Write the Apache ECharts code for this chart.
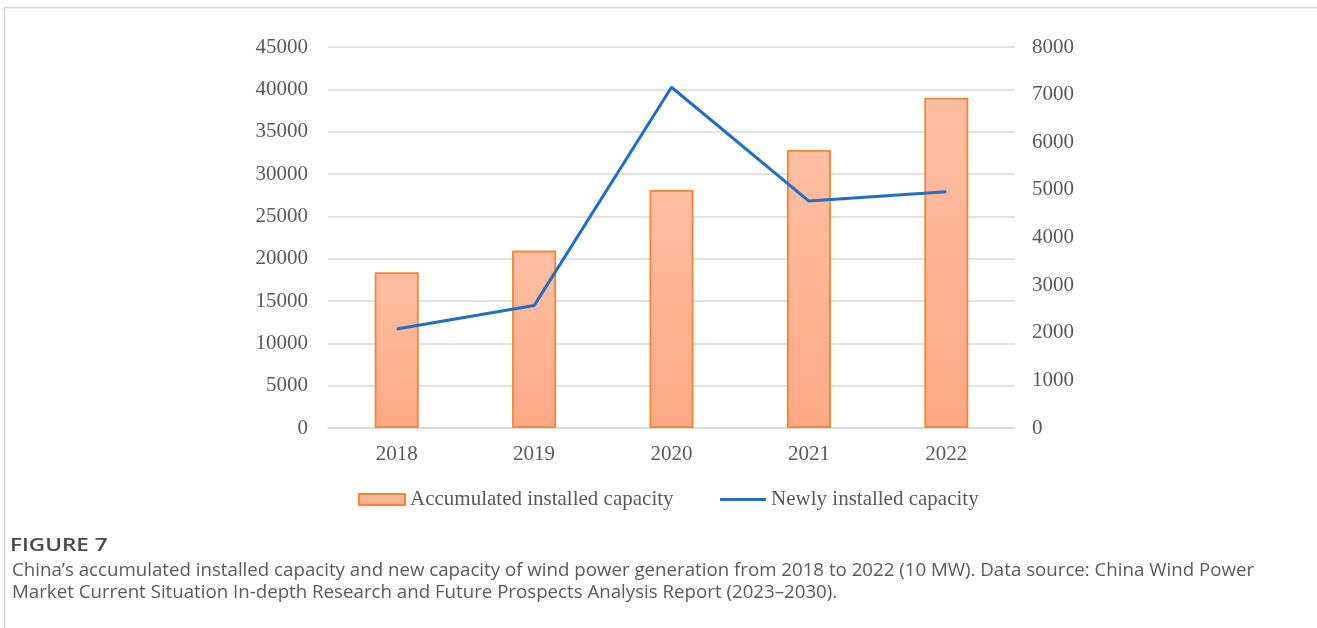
<!DOCTYPE html>
<html>
<head>
<meta charset="utf-8">
<style>
  html, body { margin: 0; padding: 0; background: #ffffff; }
  #chart { width: 1317px; height: 628px; }
</style>
<script src="https://cdn.jsdelivr.net/npm/echarts@6/dist/echarts.min.js"></script>
</head>
<body>
<div id="chart"></div>
<script>
// Wind power in China, 2018-2022 (unit: 10 MW)
const years = ['2018', '2019', '2020', '2021', '2022'];
const accumulatedCapacity = [18400, 20950, 28110, 32840, 39010];
const newCapacity = [2080, 2570, 7155, 4765, 4960];
const leftTicks = { min: 0, max: 45000, interval: 5000 };
const rightTicks = { min: 0, max: 8000, interval: 1000 };

const serif = '"Liberation Serif", "Times New Roman", serif';
const sans = '"Open Sans", "Noto Sans", sans-serif';
const textGray = '#595959';
const gridGray = '#d9d9d9';
const plain = (v) => String(v);

const chart = echarts.init(document.getElementById('chart'));

chart.setOption({
  animation: false,
  backgroundColor: '#ffffff',
  grid: { left: 328, right: 302, top: 47, bottom: 200, containLabel: false },
  legend: {
    left: 358,
    top: 489,
    padding: 0,
    itemWidth: 46,
    itemHeight: 11,
    itemGap: 45,
    textStyle: { fontFamily: serif, fontSize: 21, color: textGray },
    data: [
      { name: 'Accumulated installed capacity', icon: 'rect' },
      { name: 'Newly installed capacity', itemStyle: { opacity: 0 }, lineStyle: { width: 3 } }
    ]
  },
  xAxis: {
    type: 'category',
    data: years,
    axisLine: { show: true, lineStyle: { color: gridGray, width: 1.5 } },
    axisTick: { show: false },
    axisLabel: { fontFamily: serif, fontSize: 21, color: textGray, margin: 16 }
  },
  yAxis: [
    {
      type: 'value',
      min: leftTicks.min, max: leftTicks.max, interval: leftTicks.interval,
      axisLine: { show: false },
      axisTick: { show: false },
      splitLine: { lineStyle: { color: gridGray, width: 1.5 } },
      axisLabel: { fontFamily: serif, fontSize: 21, color: textGray, margin: 20, formatter: plain }
    },
    {
      type: 'value',
      min: rightTicks.min, max: rightTicks.max, interval: rightTicks.interval,
      axisLine: { show: false },
      axisTick: { show: false },
      splitLine: { show: false },
      axisLabel: { fontFamily: serif, fontSize: 21, color: textGray, margin: 17, formatter: plain }
    }
  ],
  series: [
    {
      name: 'Accumulated installed capacity',
      type: 'bar',
      yAxisIndex: 0,
      data: accumulatedCapacity,
      barWidth: 44,
      itemStyle: {
        color: new echarts.graphic.LinearGradient(0, 0, 0, 1, [
          { offset: 0, color: '#ffbfa3' },
          { offset: 1, color: '#fda885' }
        ]),
        borderColor: '#f7852f',
        borderWidth: 1.8
      }
    },
    {
      name: 'Newly installed capacity',
      type: 'line',
      yAxisIndex: 1,
      data: newCapacity,
      symbol: 'none',
      lineStyle: { color: '#1f6fc4', width: 3 },
      itemStyle: { color: '#1f6fc4' }
    }
  ],
  graphic: [
    {
      type: 'polyline',
      silent: true,
      shape: { points: [[4.5, 628], [4.5, 7.5], [1317, 7.5]] },
      style: { stroke: '#d6d6d6', lineWidth: 1.5, fill: null }
    },
    {
      type: 'text',
      x: 10,
      y: 537,
      scaleX: 1.25,
      style: {
        text: 'FIGURE 7',
        fontFamily: sans,
        fontSize: 18,
        fontWeight: 600,
        fill: '#4a4a4a'
      }
    },
    {
      type: 'text',
      x: 12,
      y: 560,
      style: {
        text: 'China\u2019s accumulated installed capacity and new capacity of wind power generation from 2018 to 2022 (10 MW). Data source: China Wind Power\nMarket Current Situation In-depth Research and Future Prospects Analysis Report (2023\u20132030).',
        fontFamily: sans,
        fontSize: 18.7,
        lineHeight: 22,
        fill: '#5a5a5a'
      }
    }
  ]
});
</script>
</body>
</html>
